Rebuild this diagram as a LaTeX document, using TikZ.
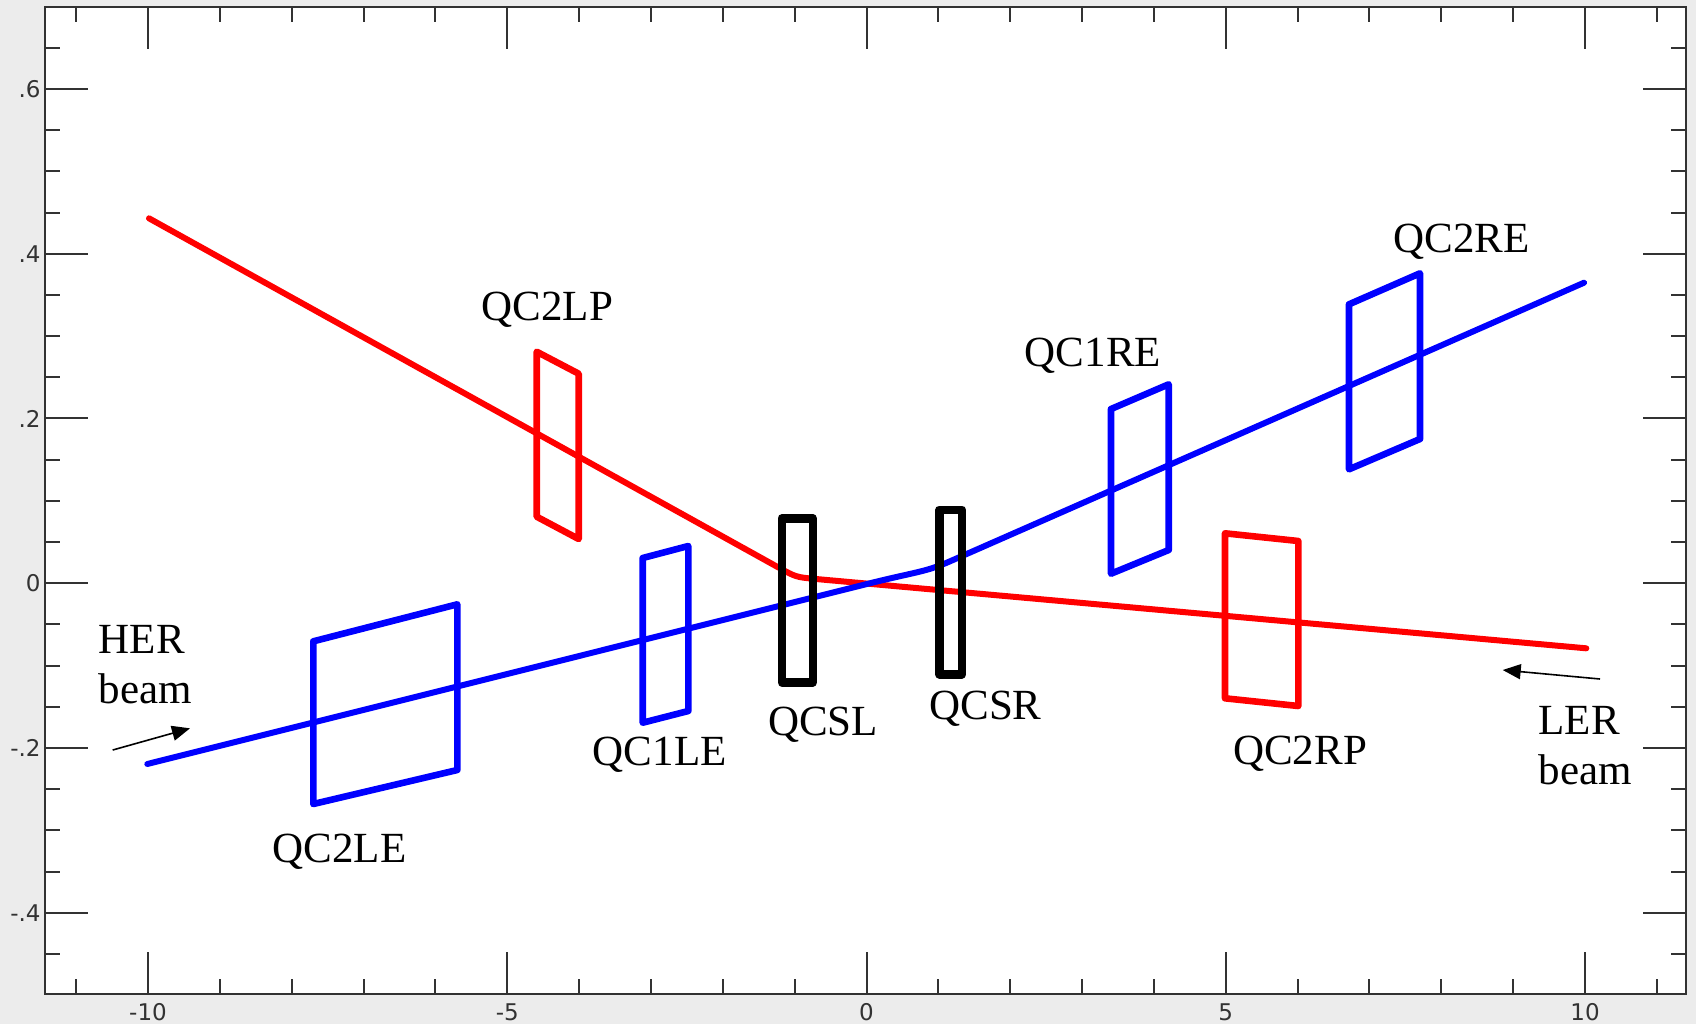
\documentclass[tikz,border=0pt]{standalone}
\usepackage{fontspec}
\setmainfont{Liberation Serif}
\newfontfamily\tickfont{DejaVu Sans}
\usetikzlibrary{arrows.meta}
\definecolor{bggray}{RGB}{236,236,236}
\definecolor{axisgray}{RGB}{50,50,50}
\definecolor{beamblue}{RGB}{0,0,255}
\definecolor{beamred}{RGB}{255,0,0}
\begin{document}
\begin{tikzpicture}[x=0.5pt,y=-0.5pt,
  beam/.style={line width=3pt, line join=round, line cap=round},
  magnet/.style={line width=3.3pt, line join=round},
  solenoid/.style={line width=4.2pt, line join=round, black},
  lbl/.style={font=\fontsize{21.5}{25}\selectfont, inner sep=0pt, anchor=base},
  beamlbl/.style={font=\fontsize{21.5}{25}\selectfont, inner sep=0pt, align=left, anchor=base west},
  ticklbl/.style={font=\tickfont\fontsize{11.5}{13}\selectfont, text=axisgray, inner sep=0pt},
  tickline/.style={axisgray, line width=1pt},
  flow/.style={black, line width=0.8pt, -{Triangle[length=9pt,width=7.5pt]}}]
\useasboundingbox (0,0) rectangle (1696,1024);
\fill[bggray] (0,0) rectangle (1696,1024);
\fill[white] (45,7) rectangle (1686,994);
% x ticks
\foreach \k in {-11,...,11}{
  \pgfmathsetmacro{\px}{866.5+71.85*\k}
  \pgfmathtruncatemacro{\md}{mod(abs(\k),5)}
  \ifnum\md=0
    \draw[tickline] (\px,7) -- ++(0,42);
    \draw[tickline] (\px,994) -- ++(0,-42);
  \else
    \draw[tickline] (\px,7) -- ++(0,15);
    \draw[tickline] (\px,994) -- ++(0,-15);
  \fi
}
% y ticks
\foreach \k in {-9,...,13}{
  \pgfmathsetmacro{\py}{583.2-41.185*\k}
  \pgfmathtruncatemacro{\md}{mod(abs(\k),4)}
  \ifnum\md=0
    \draw[tickline] (45,\py) -- ++(43,0);
    \draw[tickline] (1686,\py) -- ++(-43,0);
  \else
    \draw[tickline] (45,\py) -- ++(15,0);
    \draw[tickline] (1686,\py) -- ++(-15,0);
  \fi
}
\draw[axisgray, line width=1pt] (45,7) rectangle (1686,994);
% tick labels
\node[ticklbl] (xm10) at (148,1012) {-10};
\node[ticklbl] (xm5) at (507.25,1012) {-5};
\node[ticklbl] (x0) at (866.5,1012) {0};
\node[ticklbl] (x5) at (1225.75,1012) {5};
\node[ticklbl] (x10) at (1585,1012) {10};
\node[ticklbl, anchor=east] (y6) at (41,89) {.6};
\node[ticklbl, anchor=east] (y4) at (41,253.7) {.4};
\node[ticklbl, anchor=east] (y2) at (41,418.5) {.2};
\node[ticklbl, anchor=east] (y0) at (41,583.2) {0};
\node[ticklbl, anchor=east] (ym2) at (41,748) {-.2};
\node[ticklbl, anchor=east] (ym4) at (41,912.7) {-.4};
% magnets behind beams
\draw[magnet, beamblue] (313.3,641.3) -- (457.3,604.3) -- (457.3,770) -- (313.3,804) -- cycle;
\draw[magnet, beamred] (536.7,351.7) -- (578.7,373.7) -- (578.7,539) -- (536.7,516.7) -- cycle;
\draw[magnet, beamblue] (642.7,558) -- (688.3,546) -- (688.3,711) -- (642.7,722.7) -- cycle;
\draw[magnet, beamblue] (1111,409) -- (1168.7,384.3) -- (1168.7,550) -- (1111,573.7) -- cycle;
\draw[magnet, beamblue] (1349,304.3) -- (1420,273.3) -- (1420,439) -- (1349,469.3) -- cycle;
\draw[magnet, beamred] (1225,533.3) -- (1298.3,541) -- (1298.3,706) -- (1225,698.3) -- cycle;
% beams
\draw[beam, beamred] (149,218.3) -- (778,567.2) .. controls (796,577.1) .. (815,578.9) -- (1586.3,648.3);
\draw[beam, beamblue] (147.3,764) -- (866.5,584.1) .. controls (916.5,571.6) and (925,572.3) .. (950,561.3) -- (1584,282.7);
% solenoid magnets
\draw[solenoid] (781.7,518.3) rectangle (812.7,682.3);
\draw[solenoid] (939.3,509.7) rectangle (962,674.3);
% labels
\node[lbl] (qc2lp) at (547.3,320) {QC2LP};
\node[lbl] (qc2re) at (1461.7,252.3) {QC2RE};
\node[lbl] (qc1re) at (1093,366.7) {QC1RE};
\node[lbl] (qcsl) at (823,735.5) {QCSL};
\node[lbl] (qcsr) at (985.5,719) {QCSR};
\node[lbl] (qc1le) at (659.8,765.8) {QC1LE};
\node[lbl] (qc2le) at (339.6,862) {QC2LE};
\node[lbl] (qc2rp) at (1300,764.7) {QC2RP};
\node[beamlbl] (her) at (98.3,703.3) {HER\\beam};
\node[beamlbl] (ler) at (1538.3,784) {LER\\beam};
% beam direction arrows
\coordinate (herTail) at (112.7,750);
\coordinate (herTip) at (190,728.3);
\coordinate (lerTail) at (1600,679);
\coordinate (lerTip) at (1502.7,670);
\draw[flow] (herTail) -- (herTip);
\draw[flow] (lerTail) -- (lerTip);
\end{tikzpicture}
\end{document}
